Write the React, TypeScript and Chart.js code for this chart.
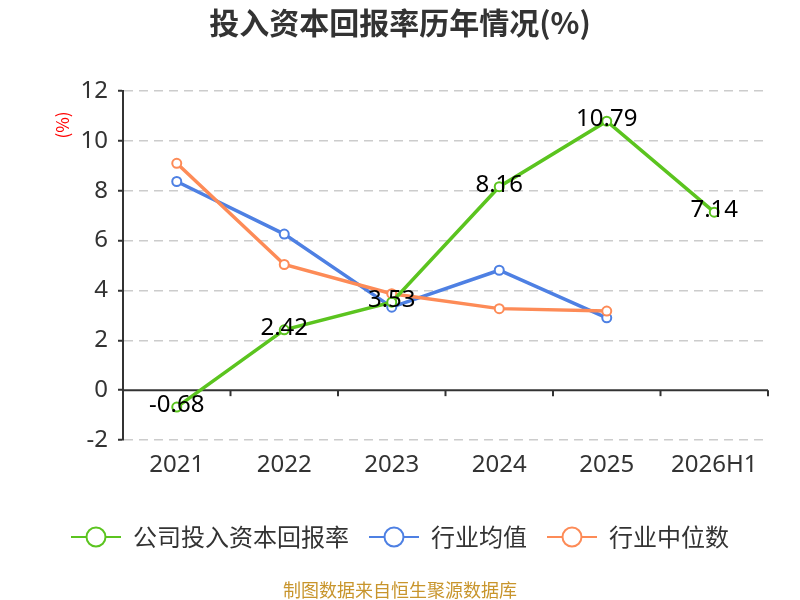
import React, { useEffect, useRef } from "react";
import { Chart, registerables } from "chart.js";

Chart.register(...registerables);

const categories = ["2021", "2022", "2023", "2024", "2025", "2026H1"];
const companyValues = [-0.68, 2.42, 3.53, 8.16, 10.79, 7.14];
const industryAvg = [8.37, 6.26, 3.33, 4.81, 2.9, null];
const industryMedian = [9.1, 5.04, 3.87, 3.27, 3.17, null];
const seriesNames = ["公司投入资本回报率", "行业均值", "行业中位数"];
const seriesColors = ["#5bc41f", "#4e80e3", "#fd8b57"];
const yMin = -2;
const yMax = 12;
const yStep = 2;
const titleText = "投入资本回报率历年情况(%)";
const unitText = "(%)";
const footerText = "制图数据来自恒生聚源数据库";

const FONT = '"Noto Sans", "Noto Sans CJK SC", sans-serif';
const CJK_FONT = '"Noto Sans CJK SC", "Noto Sans", sans-serif';

function makeLegendSymbol(color: string): HTMLCanvasElement {
  const c = document.createElement("canvas");
  c.width = 50;
  c.height = 24;
  const ctx = c.getContext("2d")!;
  ctx.strokeStyle = color;
  ctx.lineWidth = 2;
  ctx.beginPath();
  ctx.moveTo(0, 12);
  ctx.lineTo(50, 12);
  ctx.stroke();
  ctx.beginPath();
  ctx.arc(25, 12, 9.5, 0, Math.PI * 2);
  ctx.fillStyle = "#fff";
  ctx.fill();
  ctx.stroke();
  return c;
}

const decorPlugin = {
  id: "decor",
  beforeDatasetsDraw(chart: any) {
    const { ctx, chartArea, scales } = chart;
    const x = scales.x;
    const y = scales.y;
    const y0 = y.getPixelForValue(0);
    ctx.save();
    ctx.strokeStyle = "#333";
    ctx.lineWidth = 2;
    ctx.beginPath();
    ctx.moveTo(chartArea.left, y0);
    ctx.lineTo(chartArea.right, y0);
    ctx.stroke();
    const n = categories.length;
    const step = x.getPixelForValue(1) - x.getPixelForValue(0);
    for (let i = 0; i < n; i++) {
      const bx = x.getPixelForValue(i) + step / 2;
      ctx.beginPath();
      ctx.moveTo(bx, y0);
      ctx.lineTo(bx, y0 + 6);
      ctx.stroke();
    }
    ctx.restore();
  },
  afterDatasetsDraw(chart: any) {
    const { ctx } = chart;
    const meta = chart.getDatasetMeta(0);
    ctx.save();
    ctx.font = `24px ${FONT}`;
    ctx.fillStyle = "#000";
    ctx.textAlign = "center";
    ctx.textBaseline = "middle";
    meta.data.forEach((pt: any, i: number) => {
      const v = companyValues[i];
      if (v === null || v === undefined) return;
      ctx.fillText(v.toFixed(2), pt.x, pt.y - 2);
    });
    ctx.restore();
  },
  afterDraw(chart: any) {
    const { ctx } = chart;
    ctx.save();
    ctx.textAlign = "center";
    ctx.textBaseline = "middle";
    ctx.fillStyle = "#333";
    ctx.font = `bold 30px ${CJK_FONT}`;
    ctx.fillText(titleText, 400, 23);
    ctx.fillStyle = "#c8952c";
    ctx.font = `18px ${CJK_FONT}`;
    ctx.fillText(footerText, 400, 590);
    ctx.translate(63, 125);
    ctx.rotate(-Math.PI / 2);
    ctx.fillStyle = "#ff0000";
    ctx.font = `17px ${CJK_FONT}`;
    ctx.fillText(unitText, 0, 0);
    ctx.restore();
  },
};

export default function App() {
  const ref = useRef<HTMLCanvasElement>(null);
  useEffect(() => {
    if (!ref.current) return;
    const symbols = seriesColors.map((c) => makeLegendSymbol(c));
    const seriesData = [companyValues, industryAvg, industryMedian];
    const orders = [0, 2, 1];
    const chart = new Chart(ref.current, {
      type: "line",
      data: {
        labels: categories,
        datasets: seriesNames.map((name, i) => ({
          label: name,
          data: seriesData[i] as any,
          borderColor: seriesColors[i],
          backgroundColor: "#fff",
          borderWidth: 3.5,
          pointRadius: 4.5,
          pointBorderWidth: 2,
          pointBackgroundColor: "#fff",
          pointBorderColor: seriesColors[i],
          tension: 0,
          order: orders[i],
        })),
      },
      plugins: [decorPlugin],
      options: {
        responsive: false,
        animation: false,
        layout: { padding: { left: 32, right: 32, top: 91, bottom: 41 } },
        plugins: {
          title: { display: false },
          tooltip: { enabled: false },
          legend: {
            display: true,
            position: "bottom",
            labels: {
              usePointStyle: true,
              pointStyleWidth: 50,
              padding: 20,
              color: "#333",
              font: { size: 24, family: CJK_FONT },
              generateLabels: (ch: any) =>
                ch.data.datasets.map((ds: any, i: number) => ({
                  text: ds.label,
                  fillStyle: "#fff",
                  strokeStyle: seriesColors[i],
                  fontColor: "#333",
                  lineWidth: 2,
                  pointStyle: symbols[i],
                  hidden: false,
                  datasetIndex: i,
                })),
            },
          },
        },
        scales: {
          x: {
            offset: true,
            grid: { display: false, drawTicks: false },
            border: { display: false },
            ticks: {
              color: "#333",
              padding: 11,
              font: { size: 24, family: FONT },
              maxRotation: 0,
              autoSkip: false,
            },
            afterFit: (s: any) => {
              s.height = 65;
            },
          },
          y: {
            min: yMin,
            max: yMax,
            grid: {
              color: (c: any) => (c.tick && c.tick.value === 0 ? "rgba(0,0,0,0)" : "#cccccc"),
              lineWidth: 1.5,
              drawTicks: true,
              tickLength: 5,
              tickColor: "#333",
              tickWidth: 2,
              tickBorderDash: [],
            } as any,
            border: { display: true, color: "#333", width: 2, dash: [9, 6] } as any,
            ticks: {
              stepSize: yStep,
              color: "#333",
              padding: 10,
              font: { size: 24, family: FONT },
            },
            afterFit: (s: any) => {
              s.width = 91;
            },
          },
        },
      } as any,
    });
    return () => chart.destroy();
  }, []);
  return (
    <div style={{ position: "absolute", left: 0, top: 0, width: 800, height: 600, background: "#fff" }}>
      <canvas ref={ref} width={800} height={600} style={{ display: "block" }} />
    </div>
  );
}
